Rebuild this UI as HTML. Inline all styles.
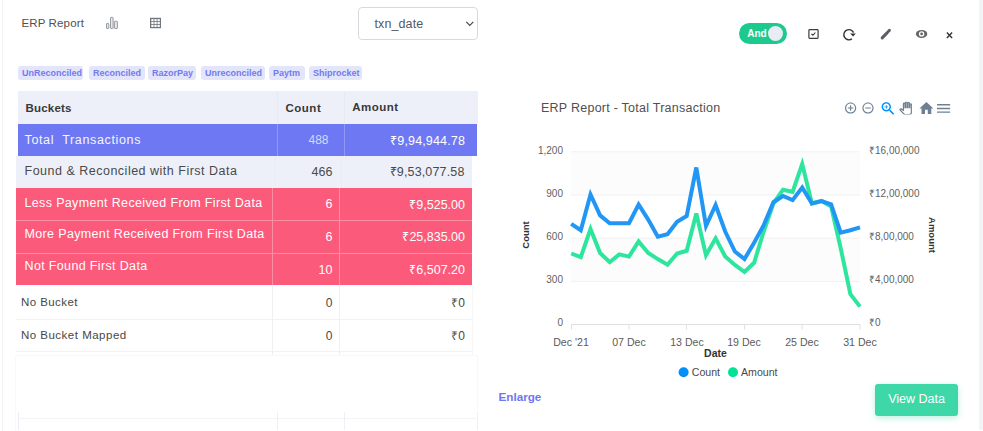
<!DOCTYPE html>
<html><head><meta charset="utf-8">
<style>
*{margin:0;padding:0;box-sizing:border-box}
html,body{width:983px;height:431px;overflow:hidden;background:#fff;font-family:"Liberation Sans",sans-serif}
.a{position:absolute;white-space:nowrap}
#lline{left:2px;top:0;width:1px;height:431px;background:#f4f4f6}
#rstrip{left:979px;top:0;width:4px;height:430px;background:#f3f4f8}
#title{left:21.4px;top:17px;font-size:11.5px;line-height:13px;color:#505050;letter-spacing:0.15px}
#sel{left:358px;top:7px;width:120px;height:33px;border:1px solid #d6d9de;border-radius:4px}
#seltxt{left:374.5px;top:16.5px;font-size:12.5px;color:#555a60;letter-spacing:0.1px}
.tag{position:absolute;top:66px;height:14px;border-radius:3px;background:#e3e5fb;color:#737aee;font-size:9px;font-weight:bold;line-height:14px;padding-left:4px;white-space:nowrap}
.row{position:absolute;height:33px}
.cell{position:absolute;top:0;height:100%;font-size:12.5px;white-space:nowrap}
.p{letter-spacing:0.4px}
.t{line-height:15px}
</style></head><body>
<div id="lline" class="a"></div>
<div id="rstrip" class="a"></div>
<div id="title" class="a">ERP Report</div>
<!-- bar icon -->
<svg class="a" style="left:104px;top:15px" width="16" height="15" viewBox="0 0 16 15">
<g fill="#e6e8eb" stroke="#979ba2" stroke-width="1">
<rect x="2.5" y="8.4" width="2.3" height="5.1" rx="0.5"/>
<rect x="6.5" y="2.4" width="2.6" height="11.1" rx="0.5"/>
<rect x="10.4" y="6.3" width="3" height="7.2" rx="0.5"/>
</g></svg>
<!-- grid icon -->
<svg class="a" style="left:149px;top:17px" width="13" height="12" viewBox="0 0 13 12">
<rect x="1" y="0.8" width="11" height="10.4" fill="#6f757c"/>
<g fill="#fff">
<rect x="2.3" y="2.1" width="2.3" height="2.1"/><rect x="5.4" y="2.1" width="2.3" height="2.1"/><rect x="8.5" y="2.1" width="2.3" height="2.1"/>
<rect x="2.3" y="5" width="2.3" height="2.1"/><rect x="5.4" y="5" width="2.3" height="2.1"/><rect x="8.5" y="5" width="2.3" height="2.1"/>
<rect x="2.3" y="7.9" width="2.3" height="2.1"/><rect x="5.4" y="7.9" width="2.3" height="2.1"/><rect x="8.5" y="7.9" width="2.3" height="2.1"/>
</g></svg>
<div id="sel" class="a"></div>
<div id="seltxt" class="a">txn_date</div>
<svg class="a" style="left:465px;top:20px" width="10" height="8" viewBox="0 0 10 8"><path d="M1.3 1.8 L4.8 5.3 L8.3 1.8" fill="none" stroke="#444a50" stroke-width="1.2"/></svg>

<div class="tag" style="left:18px;width:65px">UnReconciled</div>
<div class="tag" style="left:89px;width:56px">Reconciled</div>
<div class="tag" style="left:148px;width:48px">RazorPay</div>
<div class="tag" style="left:201px;width:64px">Unreconciled</div>
<div class="tag" style="left:269px;width:36px">Paytm</div>
<div class="tag" style="left:309px;width:53px">Shiprocket</div>

<!-- table -->
<div class="a" style="left:18px;top:91px;width:460px;height:33px;background:#eef0f9"></div>
<div class="a" style="left:277px;top:91px;width:1px;height:33px;background:#e8eaf3"></div>
<div class="a" style="left:344px;top:91px;width:1px;height:33px;background:#e8eaf3"></div>
<div class="a" style="top:102.57px;font-size:11.5px;line-height:11.5px;color:#383838;font-weight:bold;letter-spacing:0.2px;left:25.5px;">Buckets</div>
<div class="a" style="top:102.57px;font-size:11.5px;line-height:11.5px;color:#383838;font-weight:bold;letter-spacing:0.5px;left:285.5px;">Count</div>
<div class="a" style="top:102.27px;font-size:11.5px;line-height:11.5px;color:#383838;font-weight:bold;letter-spacing:0.5px;left:352.2px;">Amount</div>
<div class="a" style="left:18px;top:124px;width:459px;height:32px;background:#6e78f2"></div>
<div class="a" style="left:277px;top:124px;width:1px;height:32px;background:#9097f4"></div>
<div class="a" style="left:344px;top:124px;width:1px;height:32px;background:#9097f4"></div>
<div class="a" style="top:133.92px;font-size:12.5px;line-height:12.5px;color:#f4f5ff;letter-spacing:0.65px;left:24.5px;">Total&nbsp; Transactions</div>
<div class="a" style="top:133.94px;font-size:12px;line-height:12px;color:#d4d8fb;right:654.5px;text-align:right;">488</div>
<div class="a" style="top:134.72px;font-size:12.5px;line-height:12.5px;color:#fff;letter-spacing:0.15px;right:518px;text-align:right;">₹9,94,944.78</div>
<div class="a" style="left:16px;top:156px;width:456px;height:32px;background:#eef0f9"></div>
<div class="a" style="left:275px;top:156px;width:1px;height:32px;background:#eaecf5"></div>
<div class="a" style="left:341px;top:156px;width:1px;height:32px;background:#eaecf5"></div>
<div class="a" style="top:165.22px;font-size:12.5px;line-height:12.5px;color:#4a4a4a;letter-spacing:0.5px;left:24.5px;">Found &amp; Reconciled with First Data</div>
<div class="a" style="top:165.72px;font-size:12.5px;line-height:12.5px;color:#4a4a4a;right:650.6px;text-align:right;">466</div>
<div class="a" style="top:165.72px;font-size:12.5px;line-height:12.5px;color:#4a4a4a;letter-spacing:0.15px;right:518.5px;text-align:right;">₹9,53,077.58</div>
<div class="a" style="left:16px;top:188px;width:456px;height:97px;background:#fb5a7a"></div>
<div class="a" style="left:16px;top:220px;width:456px;height:1px;background:#fc8ea3"></div>
<div class="a" style="left:16px;top:253px;width:456px;height:1px;background:#fc8ea3"></div>
<div class="a" style="left:272px;top:188px;width:1px;height:97px;background:#fc8ea3"></div>
<div class="a" style="left:339px;top:188px;width:1px;height:97px;background:#fc8ea3"></div>
<div class="a" style="top:197.22px;font-size:12.5px;line-height:12.5px;color:#fff;letter-spacing:0.35px;left:24.5px;">Less Payment Received From First Data</div>
<div class="a" style="top:228.22px;font-size:12.5px;line-height:12.5px;color:#fff;letter-spacing:0.35px;left:24.5px;">More Payment Received From First Data</div>
<div class="a" style="top:260.42px;font-size:12.5px;line-height:12.5px;color:#fff;letter-spacing:0.35px;left:24.5px;">Not Found First Data</div>
<div class="a" style="top:198.22px;font-size:12.5px;line-height:12.5px;color:#fff;right:650.6px;text-align:right;">6</div>
<div class="a" style="top:231.22px;font-size:12.5px;line-height:12.5px;color:#fff;right:650.6px;text-align:right;">6</div>
<div class="a" style="top:263.72px;font-size:12.5px;line-height:12.5px;color:#fff;right:650.6px;text-align:right;">10</div>
<div class="a" style="top:198.72px;font-size:12.5px;line-height:12.5px;color:#fff;right:518px;text-align:right;">₹9,525.00</div>
<div class="a" style="top:231.22px;font-size:12.5px;line-height:12.5px;color:#fff;right:518px;text-align:right;">₹25,835.00</div>
<div class="a" style="top:263.72px;font-size:12.5px;line-height:12.5px;color:#fff;right:518px;text-align:right;">₹6,507.20</div>
<div class="a" style="left:16px;top:319px;width:456px;height:1px;background:#f1f2f5"></div>
<div class="a" style="left:16px;top:351px;width:456px;height:1px;background:#f1f2f5"></div>
<div class="a" style="left:272px;top:285px;width:1px;height:70px;background:#eff0f3"></div>
<div class="a" style="left:339px;top:285px;width:1px;height:70px;background:#eff0f3"></div>
<div class="a" style="left:472px;top:285px;width:1px;height:70px;background:#f6f7f9"></div>
<div class="a" style="top:297.27px;font-size:11.5px;line-height:11.5px;color:#474747;letter-spacing:0.45px;left:20.9px;">No Bucket</div>
<div class="a" style="top:329.57px;font-size:11.5px;line-height:11.5px;color:#474747;letter-spacing:0.5px;left:20.9px;">No Bucket Mapped</div>
<div class="a" style="top:297.14px;font-size:12px;line-height:12px;color:#474747;right:650.6px;text-align:right;">0</div>
<div class="a" style="top:297.14px;font-size:12px;line-height:12px;color:#474747;right:518px;text-align:right;">₹0</div>
<div class="a" style="top:329.64px;font-size:12px;line-height:12px;color:#474747;right:650.6px;text-align:right;">0</div>
<div class="a" style="top:329.64px;font-size:12px;line-height:12px;color:#474747;right:518px;text-align:right;">₹0</div>
<div class="a" style="left:18px;top:418px;width:460px;height:1px;background:#f3f4f6"></div>
<div class="a" style="left:18px;top:412px;width:1px;height:18px;background:#eceef5"></div>
<div class="a" style="left:277px;top:412px;width:1px;height:18px;background:#eef0f6"></div>
<div class="a" style="left:344px;top:412px;width:1px;height:18px;background:#eef0f6"></div>
<div class="a" style="left:477px;top:412px;width:1px;height:18px;background:#eef0f6"></div>
<div class="a" style="left:477px;top:355px;width:1px;height:55px;background:#f8f8fa"></div>
<div class="a" style="left:15px;top:355px;width:1px;height:76px;background:#f8f9fa"></div>
<div class="a" style="left:16px;top:355px;width:462px;height:1px;background:#f9f9fb"></div>

<!-- right header -->
<div class="a" style="left:739px;top:23px;width:48px;height:21px;border-radius:11px;background:#1dca8e"></div>
<div class="a" style="left:747.3px;top:28.3px;font-size:10px;font-weight:bold;color:#fbfffd;letter-spacing:-0.1px">And</div>
<div class="a" style="left:768px;top:26px;width:15px;height:15px;border-radius:50%;background:#e9ecf5"></div>
<svg class="a" style="left:0;top:0" width="983" height="60" viewBox="0 0 983 60">
<rect x="808.9" y="29.6" width="9.2" height="8.7" rx="0.8" fill="none" stroke="#3c3c3c" stroke-width="1.2"/>
<path d="M811.4 33.9 L812.9 35.2 L815.4 32.5" fill="none" stroke="#3c3c3c" stroke-width="1.1"/>
<path d="M851.9 38.9 A5.1 5.1 0 1 1 853.6 32.6" fill="none" stroke="#333" stroke-width="1.4"/>
<path d="M850.1 33.6 L855.8 33.4 L853.1 36.6 Z" fill="#333"/>
<path d="M882.2 37.9 L887.3 32.6" stroke="#5a5e66" stroke-width="3" stroke-linecap="round"/>
<path d="M888.5 31.3 L889.4 30.4" stroke="#5a5e66" stroke-width="3" stroke-linecap="round"/>
<ellipse cx="921.6" cy="33.9" rx="5.7" ry="4" fill="#666"/>
<circle cx="921.6" cy="33.9" r="2.7" fill="#fff"/>
<circle cx="921.6" cy="33.9" r="1.4" fill="#666"/>
<path d="M946.9 32.6 L952.1 38.1 M952.1 32.6 L946.9 38.1" stroke="#333" stroke-width="1.4"/>
</svg>

<!-- chart -->
<div class="a" style="left:541px;top:100.5px;font-size:12.5px;color:#505050;letter-spacing:0.25px">ERP Report - Total Transaction</div>
<svg class="a" style="left:0;top:0" width="983" height="431" viewBox="0 0 983 431">
  <rect x="571" y="151.8" width="289" height="43.2" fill="#fcfcfc"/>
  <rect x="571" y="238.2" width="289" height="43.2" fill="#fcfcfc"/>
  <g stroke="#f1f1f1" stroke-width="1">
    <line x1="571" y1="151.8" x2="860" y2="151.8"/>
    <line x1="571" y1="195" x2="860" y2="195"/>
    <line x1="571" y1="238.2" x2="860" y2="238.2"/>
    <line x1="571" y1="281.4" x2="860" y2="281.4"/>
  </g>
  <line x1="571" y1="324.5" x2="860" y2="324.5" stroke="#e0e0e0" stroke-width="1"/>
  <g stroke="#e0e0e0" stroke-width="1">
    <line x1="571.5" y1="324" x2="571.5" y2="329.5"/>
    <line x1="629" y1="324" x2="629" y2="329.5"/>
    <line x1="686.5" y1="324" x2="686.5" y2="329.5"/>
    <line x1="744.5" y1="324" x2="744.5" y2="329.5"/>
    <line x1="802" y1="324" x2="802" y2="329.5"/>
    <line x1="860" y1="324" x2="860" y2="329.5"/>
  </g>
  <path d="M571.2 253.5 L580.8 257.2 L590.5 229.0 L600.1 253.0 L609.7 262.2 L619.3 254.4 L629.0 256.6 L638.6 241.5 L648.2 253.0 L657.8 259.1 L667.5 264.7 L677.1 253.5 L686.7 250.8 L696.3 213.5 L706.0 255.2 L715.6 238.3 L725.2 256.5 L734.9 264.9 L744.5 272.0 L754.1 262.8 L763.7 231.5 L773.4 203.5 L783.0 189.7 L792.6 191.8 L802.2 164.0 L811.9 203.5 L821.5 201.0 L831.1 206.4 L840.7 248.2 L850.4 294.1 L860.0 306.6" fill="none" stroke="#2ee59d" stroke-width="4" stroke-linejoin="miter"/>
  <path d="M571.2 223.8 L580.8 230.2 L590.5 194.5 L600.1 215.4 L609.7 223.2 L619.3 223.2 L629.0 223.2 L638.6 204.5 L648.2 219.6 L657.8 236.8 L667.5 234.3 L677.1 221.8 L686.7 216.0 L696.3 167.5 L706.0 226.0 L715.6 205.0 L725.2 231.5 L734.9 251.5 L744.5 259.0 L754.1 242.7 L763.7 225.2 L773.4 202.2 L783.0 196.0 L792.6 200.1 L802.2 187.5 L811.9 203.5 L821.5 201.0 L831.1 204.3 L840.7 232.7 L850.4 230.2 L860.0 227.3" fill="none" stroke="#2196f5" stroke-width="4" stroke-linejoin="miter"/>
  <g font-family="Liberation Sans" font-size="10" fill="#5f5f5f">
    <text x="563" y="154" text-anchor="end">1,200</text>
    <text x="563" y="197" text-anchor="end">900</text>
    <text x="563" y="240" text-anchor="end">600</text>
    <text x="563" y="283" text-anchor="end">300</text>
    <text x="563" y="326" text-anchor="end">0</text>
    <text x="869" y="154">₹16,00,000</text>
    <text x="869" y="197">₹12,00,000</text>
    <text x="869" y="240">₹8,00,000</text>
    <text x="869" y="283">₹4,00,000</text>
    <text x="869" y="326">₹0</text>
  </g>
  <g font-family="Liberation Sans" font-size="10.6" fill="#5a5a5a" text-anchor="middle">
    <text x="571" y="346">Dec '21</text>
    <text x="629" y="346">07 Dec</text>
    <text x="687" y="346">13 Dec</text>
    <text x="744" y="346">19 Dec</text>
    <text x="802" y="346">25 Dec</text>
    <text x="860" y="346">31 Dec</text>
  </g>
  <text x="715.5" y="356.5" font-family="Liberation Sans" font-size="10.5" font-weight="bold" fill="#333" text-anchor="middle">Date</text>
  <text transform="translate(529 235) rotate(-90)" font-family="Liberation Sans" font-size="9.5" font-weight="bold" fill="#333" text-anchor="middle">Count</text>
  <text transform="translate(929 235) rotate(90)" font-family="Liberation Sans" font-size="9.5" font-weight="bold" fill="#333" text-anchor="middle">Amount</text>
  <circle cx="683.6" cy="372.3" r="5" fill="#008ffb"/>
  <text x="691.8" y="376" font-family="Liberation Sans" font-size="10.6" fill="#4a4a4a">Count</text>
  <circle cx="733" cy="372.3" r="5" fill="#00e396"/>
  <text x="741" y="376" font-family="Liberation Sans" font-size="10.6" fill="#4a4a4a">Amount</text>
  <!-- toolbar -->
  <g fill="#6e8192">
    <path transform="translate(843.88 101.28) scale(0.56)" d="M13 7h-2v4H7v2h4v4h2v-4h4v-2h-4V7zm-1-5C6.49 2 2 6.49 2 12s4.49 10 10 10 10-4.49 10-10S17.51 2 12 2zm0 18c-4.41 0-8-3.59-8-8s3.59-8 8-8 8 3.59 8 8-3.59 8-8 8z"/>
    <path transform="translate(861.28 101.28) scale(0.56)" d="M7 11v2h10v-2H7zm5-9C6.49 2 2 6.49 2 12s4.49 10 10 10 10-4.49 10-10S17.51 2 12 2zm0 18c-4.41 0-8-3.59-8-8s3.59-8 8-8 8 3.59 8 8-3.59 8-8 8z"/>
    <path transform="translate(918 100) scale(0.7)" d="M10 20v-6h4v6h5v-8h3L12 3 2 12h3v8z"/>
    <path transform="translate(934.8 99.7) scale(0.73)" d="M3 18h18v-2H3v2zm0-5h18v-2H3v2zm0-7v2h18V6H3z"/>
  </g>
  <g fill="#008ffb" transform="translate(879.46 100.01) scale(0.72)">
    <path d="M15.5 14h-.79l-.28-.27C15.41 12.59 16 11.110 16 9.5 16 5.91 13.09 3 9.5 3S3 5.91 3 9.5 5.91 16 9.5 16c1.61 0 3.09-.59 4.23-1.570l.27.28v.79l5 4.99L20.49 19l-4.99-5zm-6 0C7.01 14 5 11.99 5 9.5S7.01 5 9.5 5 14 7.01 14 9.5 11.99 14 9.5 14z"/>
    <path d="M12 10h-2v2H9v-2H7V9h2V7h1v2h2v1z"/>
  </g>
  <svg x="899.2" y="101.8" width="12.72" height="12.72" viewBox="0 0 24 24" overflow="hidden">
    <path d="M23 5.5V20c0 2.2-1.8 4-4 4h-7.3c-1.08 0-2.1-.43-2.85-1.19L1 14.83s1.26-1.23 1.3-1.25c.22-.19.49-.29.79-.29.22 0 .42.06.6.16.04.01 4.31 2.46 4.31 2.46V4c0-.83.67-1.5 1.5-1.5S11 3.17 11 4v7h1V1.5c0-.83.67-1.5 1.5-1.5S15 .67 15 1.5V11h1V2.5c0-.83.67-1.5 1.5-1.5s1.5.67 1.5 1.5V11h1V5.5c0-.83.67-1.5 1.5-1.5s1.5.67 1.5 1.5z" fill="#fff" stroke="#6e8192" stroke-width="2.4"/>
  </svg>
</svg>
<div class="a" style="left:498.5px;top:389.5px;font-size:11.7px;font-weight:bold;color:#6f76f0">Enlarge</div>
<div class="a" style="left:875px;top:384px;width:83px;height:32px;border-radius:3px;background:#3ed8a8;box-shadow:0 2px 6px rgba(62,216,168,0.35);color:#fff;font-size:12.5px;line-height:31px;text-align:center">View Data</div>
</body></html>
